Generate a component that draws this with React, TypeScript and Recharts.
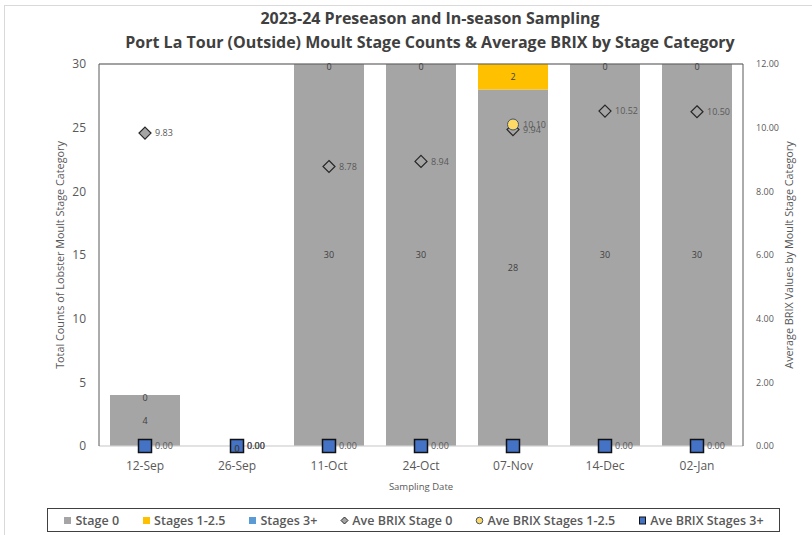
import React from 'react';
import { ComposedChart, Bar, Line, XAxis, YAxis, CartesianGrid, LabelList, ReferenceLine, Label } from 'recharts';

const categories = ['12-Sep', '26-Sep', '11-Oct', '24-Oct', '07-Nov', '14-Dec', '02-Jan'];
const stage0 = [4, 0, 30, 30, 28, 30, 30];
const stages1to25 = [0, 0, 0, 0, 2, 0, 0];
const stages3plus = [0, 0, 0, 0, 0, 0, 0];
const brixStage0: (number | null)[] = [9.83, 0, 8.78, 8.94, 9.94, 10.52, 10.5];
const brixStages1to25: (number | null)[] = [null, 0, null, null, 10.1, null, null];
const brixStages3plus: (number | null)[] = [0, 0, 0, 0, 0, 0, 0];
const brix3Labels = ['0.00', '0.00', '0.00', '0.00', '', '0.00', '0.00'];
const leftTicks = [0, 5, 10, 15, 20, 25, 30];
const rightTicks = [0, 2, 4, 6, 8, 10, 12];

const data = categories.map((c, i) => ({
  cat: c,
  s0: stage0[i],
  s1: stages1to25[i],
  s3: stages3plus[i],
  s0mid: stage0[i] / 2,
  s1mid: stage0[i] + stages1to25[i] / 2,
  b0: brixStage0[i],
  b1: brixStages1to25[i],
  b3: brixStages3plus[i],
}));

const FONT = '"Open Sans", "Liberation Sans", sans-serif';

const Diamond = (p: any) => {
  const { cx, cy } = p;
  if (cx == null || cy == null || p.value == null) return null;
  return (
    <path
      d={`M${cx},${cy - 6} L${cx + 6},${cy} L${cx},${cy + 6} L${cx - 6},${cy} Z`}
      fill="#A5A5A5"
      stroke="#262626"
      strokeWidth={1.2}
    />
  );
};

const Circle = (p: any) => {
  const { cx, cy } = p;
  if (cx == null || cy == null || p.value == null) return null;
  return <circle cx={cx} cy={cy} r={5.5} fill="#FFD966" stroke="#44546A" strokeWidth={1} />;
};

const Square = (p: any) => {
  const { cx, cy } = p;
  if (cx == null || cy == null || p.value == null) return null;
  return <rect x={cx - 6.5} y={cy - 6.5} width={13} height={13} fill="#4472C4" stroke="#111" strokeWidth={1.5} />;
};

const fmt2 = (v: any) => (v == null ? '' : Number(v).toFixed(2));

const makeSegLabel = (values: number[]) => (p: any) => {
  const { x, y, index } = p;
  if (x == null || y == null) return null;
  const v = values[index];
  const shift = v === 0 ? 3 : 0;
  return (
    <text x={Number(x)} y={Number(y) + shift} dy="0.35em" textAnchor="middle" fontSize={9} fill="#404040" fontFamily={FONT}>
      {v}
    </text>
  );
};
const S0Label = makeSegLabel(stage0);
const S1Label = makeSegLabel(stages1to25);

const B3Label = (p: any) => {
  const { x, y, index } = p;
  const t = brix3Labels[index];
  if (!t) return null;
  return (
    <text x={x + 10} y={y} dy="0.35em" fontSize={9} fill="#595959" fontFamily={FONT}>
      {t}
    </text>
  );
};

const legendItems = [
  { name: 'Stage 0', icon: <rect x={1} y={1} width={7} height={7} fill="#A5A5A5" /> },
  { name: 'Stages 1-2.5', icon: <rect x={1} y={1} width={7} height={7} fill="#FFC000" /> },
  { name: 'Stages 3+', icon: <rect x={1} y={1} width={7} height={7} fill="#5B9BD5" /> },
  { name: 'Ave BRIX Stage 0', icon: <path d="M4.5,1 L8,4.5 L4.5,8 L1,4.5 Z" fill="#A5A5A5" stroke="#262626" strokeWidth={1} /> },
  { name: 'Ave BRIX Stages 1-2.5', icon: <circle cx={4.5} cy={4.5} r={3.3} fill="#FFD966" stroke="#44546A" strokeWidth={1} /> },
  { name: 'Ave BRIX Stages 3+', icon: <rect x={1.5} y={1} width={6} height={7} fill="#4472C4" stroke="#111" strokeWidth={1} /> },
];

export default function App() {
  return (
    <div style={{ position: 'absolute', left: 0, top: 0, width: 812, height: 535, background: '#fff', overflow: 'hidden', fontFamily: FONT }}>
      <div style={{ position: 'absolute', left: 4, top: 5, width: 900, height: 600, border: '1px solid #d9d9d9' }} />
      <div style={{ position: 'absolute', left: 0, top: 6, width: 860, textAlign: 'center', fontSize: 16, fontWeight: 700, color: '#404040', lineHeight: '24px' }}>
        <div>2023-24 Preseason and In-season Sampling</div>
        <div>Port La Tour (Outside) Moult Stage Counts &amp; Average BRIX by Stage Category</div>
      </div>
      <div style={{ position: 'absolute', left: 0, top: 0 }}>
        <ComposedChart
          width={812}
          height={535}
          data={data}
          margin={{ top: 64, right: 9, left: 39, bottom: 49 }}
          barSize={70}
        >
          <CartesianGrid vertical={false} stroke="#d9d9d9" />
          <XAxis
            dataKey="cat"
            tickLine={false}
            axisLine={{ stroke: '#d9d9d9' }}
            height={40}
            tick={{ fontSize: 12, fill: '#595959', fontFamily: FONT }}
            tickMargin={9}
            interval={0}
          >
            <Label value="Sampling Date" position="insideBottom" offset={-4} fontSize={9.5} fill="#595959" fontFamily={FONT} />
          </XAxis>
          <YAxis
            yAxisId="left"
            domain={[0, 30]}
            ticks={leftTicks}
            tickLine={false}
            axisLine={{ stroke: '#595959' }}
            width={60}
            tickMargin={7}
            tick={{ fontSize: 12, fill: '#595959', fontFamily: FONT }}
          >
            <Label value="Total Counts of Lobster Moult Stage Category" angle={-90} position="center" dx={-9} fontSize={10.8} fill="#595959" fontFamily={FONT} />
          </YAxis>
          <YAxis
            yAxisId="right"
            orientation="right"
            domain={[0, 12]}
            ticks={rightTicks}
            tickFormatter={(v: number) => v.toFixed(2)}
            tickLine={false}
            axisLine={{ stroke: '#595959' }}
            width={60}
            tickMargin={7}
            tick={{ fontSize: 9, fill: '#595959', fontFamily: FONT }}
          >
            <Label value="Average BRIX Values by Moult Stage Category" angle={-90} position="center" dx={16} fontSize={10.8} fill="#595959" fontFamily={FONT} />
          </YAxis>
          <ReferenceLine yAxisId="left" y={30} stroke="#595959" />
          <Bar yAxisId="left" dataKey="s0" name="Stage 0" stackId="a" fill="#A5A5A5" isAnimationActive={false} />
          <Bar yAxisId="left" dataKey="s1" name="Stages 1-2.5" stackId="a" fill="#FFC000" isAnimationActive={false} />
          <Bar yAxisId="left" dataKey="s3" name="Stages 3+" stackId="a" fill="#5B9BD5" isAnimationActive={false} />
          <Line yAxisId="left" dataKey="s0mid" stroke="none" dot={false} activeDot={false} legendType="none" isAnimationActive={false}>
            <LabelList dataKey="s0mid" content={<S0Label />} />
          </Line>
          <Line yAxisId="left" dataKey="s1mid" stroke="none" dot={false} activeDot={false} legendType="none" isAnimationActive={false}>
            <LabelList dataKey="s1mid" content={<S1Label />} />
          </Line>
          <Line yAxisId="right" dataKey="b0" name="Ave BRIX Stage 0" stroke="none" dot={<Diamond />} activeDot={false} isAnimationActive={false}>
            <LabelList dataKey="b0" position="right" offset={10} formatter={fmt2} fontSize={9} fill="#595959" fontFamily={FONT} />
          </Line>
          <Line yAxisId="right" dataKey="b1" name="Ave BRIX Stages 1-2.5" stroke="none" dot={<Circle />} activeDot={false} isAnimationActive={false}>
            <LabelList dataKey="b1" position="right" offset={10} formatter={fmt2} fontSize={9} fill="#595959" fontFamily={FONT} />
          </Line>
          <Line yAxisId="right" dataKey="b3" name="Ave BRIX Stages 3+" stroke="none" dot={<Square />} activeDot={false} isAnimationActive={false}>
            <LabelList dataKey="b3" content={<B3Label />} />
          </Line>
        </ComposedChart>
      </div>
      <div
        style={{
          position: 'absolute',
          left: 47,
          top: 508,
          width: 731,
          height: 22,
          border: '1px solid #404040',
          display: 'flex',
          alignItems: 'center',
          justifyContent: 'center',
          gap: 23,
          fontSize: 12.5,
          fontWeight: 600,
          color: '#595959',
        }}
      >
        {legendItems.map((it) => (
          <div key={it.name} style={{ display: 'flex', alignItems: 'center', gap: 3 }}>
            <svg width={9} height={9}>{it.icon}</svg>
            <span>{it.name}</span>
          </div>
        ))}
      </div>
    </div>
  );
}
